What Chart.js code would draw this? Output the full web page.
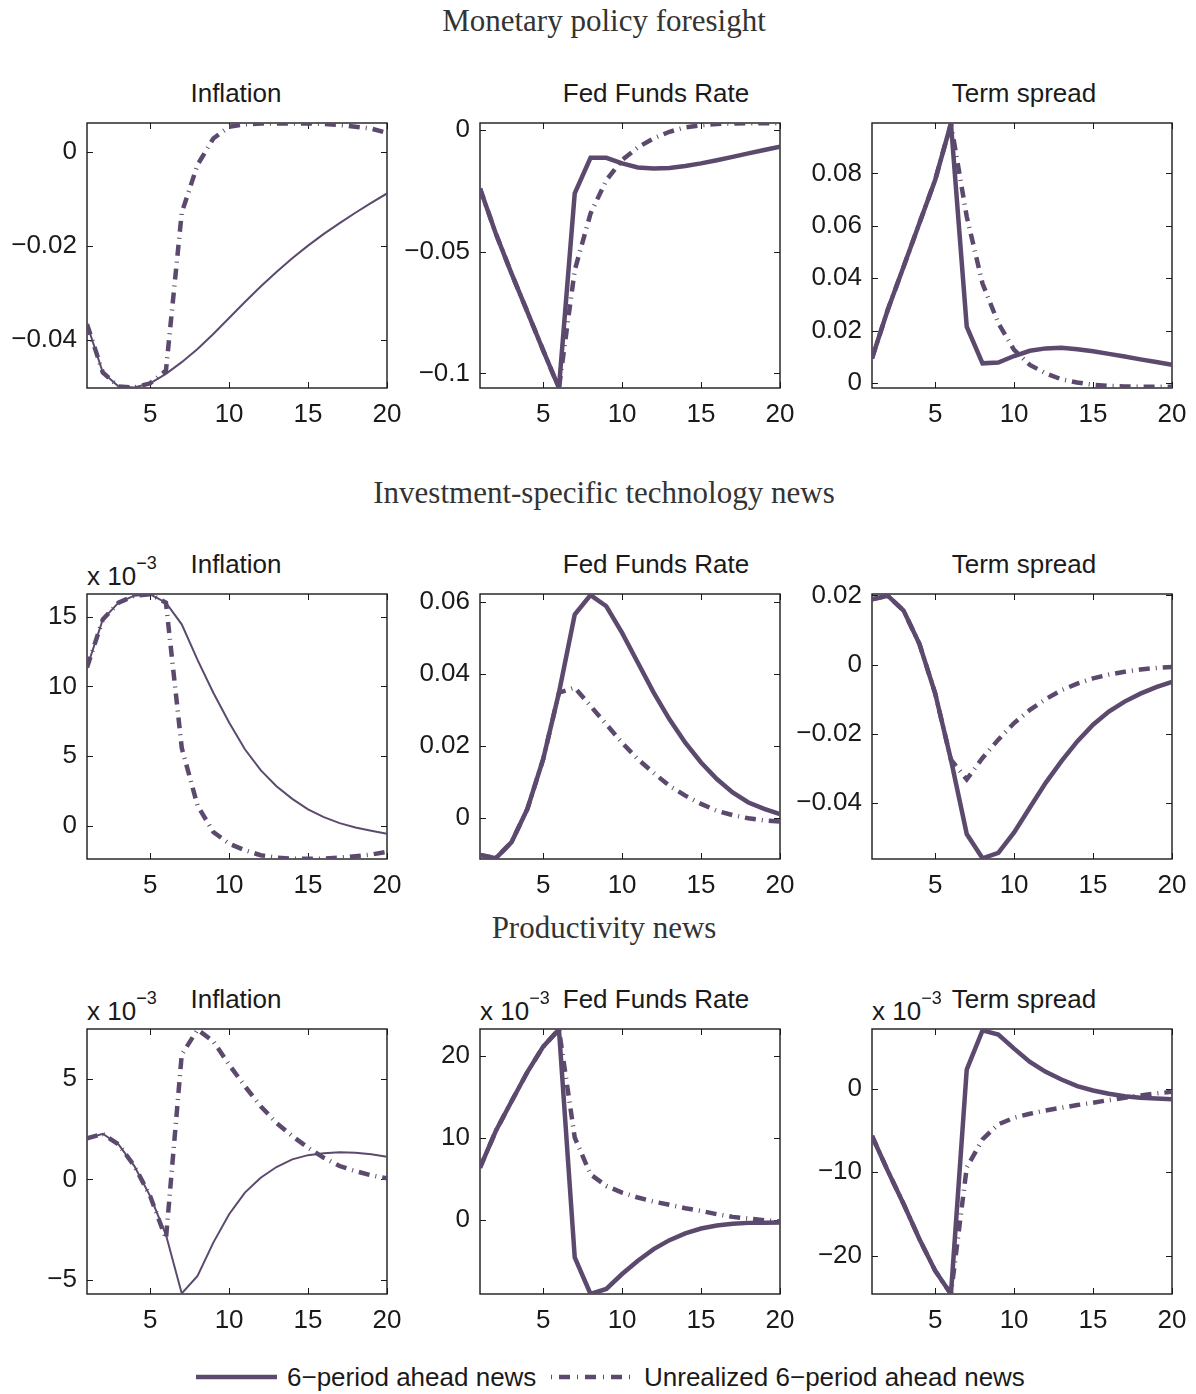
<!DOCTYPE html>
<html>
<head>
<meta charset="utf-8">
<title>News shocks impulse responses</title>
<script src="https://cdn.jsdelivr.net/npm/chart.js@4.4.0/dist/chart.umd.min.js"></script>
<style>
  html, body { margin: 0; padding: 0; background: #fff; overflow: hidden; }
  #figure {
    position: relative;
    width: 1196px;
    height: 1394px;
    font-family: "Liberation Sans", Arial, sans-serif;
    color: #1a1a1a;
  }
  .section-title {
    position: absolute;
    left: 0;
    width: 1208px;
    text-align: center;
    font-family: "Liberation Serif", "DejaVu Serif", serif;
    font-size: 31px;
    line-height: 34px;
    color: #333;
  }
  .panel-title {
    position: absolute;
    font-size: 26px;
    line-height: 30px;
    white-space: nowrap;
    transform: translateX(-50%);
  }
  .scale-note {
    position: absolute;
    font-size: 26px;
    line-height: 30px;
    white-space: nowrap;
  }
  .scale-note sup {
    font-size: 18px;
    position: relative;
    top: -6px;
  }
  .panel { position: absolute; }
  .legend-item { position: absolute; font-size: 26px; line-height: 30px; white-space: nowrap; }
</style>
</head>
<body>
<div id="figure"></div>
<script>
const periods = [1, 2, 3, 4, 5, 6, 7, 8, 9, 10, 11, 12, 13, 14, 15, 16, 17, 18, 19, 20];
const xTicks = [5, 10, 15, 20];

// Monetary policy foresight
const mpInflationNews = [-0.0367, -0.047, -0.05, -0.0502, -0.0493, -0.0473, -0.0448, -0.042, -0.0388, -0.0354, -0.032, -0.0287, -0.0256, -0.0227, -0.02, -0.0175, -0.0152, -0.013, -0.0109, -0.0089];
const mpInflationUnrealized = [-0.0367, -0.047, -0.05, -0.0502, -0.0493, -0.0466, -0.013, -0.0028, 0.0028, 0.0053, 0.0058, 0.006, 0.006, 0.006, 0.006, 0.0059, 0.0057, 0.0053, 0.0049, 0.004];
const mpInflationTicks = [-0.04, -0.02, 0];

const mpRateNews = [-0.024, -0.0425, -0.059, -0.0747, -0.0905, -0.106, -0.026, -0.0114, -0.0114, -0.0137, -0.0154, -0.0158, -0.0156, -0.0148, -0.0137, -0.0124, -0.011, -0.0096, -0.0082, -0.0068];
const mpRateUnrealized = [-0.024, -0.0425, -0.059, -0.0747, -0.0905, -0.106, -0.0576, -0.0343, -0.0206, -0.0123, -0.0071, -0.0034, -0.0007, 0.0011, 0.002, 0.0025, 0.0027, 0.0028, 0.0028, 0.0028];
const mpRateTicks = [-0.1, -0.05, 0];

const mpSpreadNews = [0.0095, 0.028, 0.0444, 0.061, 0.0775, 0.099, 0.0216, 0.0076, 0.0079, 0.0104, 0.0124, 0.0133, 0.0135, 0.013, 0.0122, 0.0112, 0.0102, 0.0091, 0.0081, 0.007];
const mpSpreadUnrealized = [0.0095, 0.028, 0.0444, 0.061, 0.0775, 0.099, 0.0635, 0.038, 0.0229, 0.0127, 0.007, 0.0038, 0.0015, 0.0003, -0.0006, -0.001, -0.0012, -0.0013, -0.0013, -0.0013];
const mpSpreadTicks = [0, 0.02, 0.04, 0.06, 0.08];

// Investment-specific technology news
const isInflationNews = [11.36, 14.8, 16.0, 16.5, 16.6, 16.0, 14.45, 11.9, 9.55, 7.41, 5.5, 4.0, 2.85, 1.95, 1.19, 0.64, 0.21, -0.1, -0.33, -0.55];
const isInflationUnrealized = [11.36, 14.8, 16.0, 16.5, 16.6, 16.0, 5.6, 1.47, -0.43, -1.26, -1.73, -2.09, -2.26, -2.33, -2.35, -2.33, -2.26, -2.16, -2.04, -1.85];
const isInflationTicks = [0, 5, 10, 15];

const isRateNews = [-0.0102, -0.0111, -0.0066, 0.0026, 0.0164, 0.0349, 0.0566, 0.062, 0.0589, 0.0515, 0.0432, 0.0349, 0.0275, 0.021, 0.0155, 0.0109, 0.0072, 0.0044, 0.0026, 0.0012];
const isRateUnrealized = [-0.0102, -0.0111, -0.0066, 0.0026, 0.0164, 0.0349, 0.0363, 0.0312, 0.0261, 0.021, 0.0164, 0.0126, 0.009, 0.0063, 0.004, 0.0021, 0.0009, 0.0, -0.0006, -0.0009];
const isRateTicks = [0, 0.02, 0.04, 0.06];

const isSpreadNews = [0.0189, 0.0199, 0.0156, 0.006, -0.0083, -0.0275, -0.049, -0.056, -0.0544, -0.0485, -0.0413, -0.0342, -0.0279, -0.0222, -0.0174, -0.0136, -0.0107, -0.0084, -0.0065, -0.005];
const isSpreadUnrealized = [0.0189, 0.0199, 0.0156, 0.006, -0.0083, -0.0275, -0.0332, -0.027, -0.0217, -0.0169, -0.0131, -0.01, -0.0074, -0.0055, -0.004, -0.0029, -0.0021, -0.0014, -0.001, -0.0007];
const isSpreadTicks = [-0.04, -0.02, 0, 0.02];

// Productivity news
const pnInflationNews = [2.03, 2.26, 1.73, 0.66, -0.83, -2.75, -5.66, -4.79, -3.14, -1.73, -0.66, 0.08, 0.61, 0.99, 1.2, 1.3, 1.34, 1.32, 1.24, 1.12];
const pnInflationUnrealized = [2.03, 2.26, 1.73, 0.66, -0.83, -2.95, 6.19, 7.43, 6.85, 5.69, 4.62, 3.63, 2.8, 2.15, 1.57, 1.07, 0.66, 0.41, 0.2, 0.05];
const pnInflationTicks = [-5, 0, 5];

const pnRateNews = [6.33, 10.8, 14.44, 18.0, 21.1, 23.2, -4.62, -9.09, -8.48, -6.65, -5.03, -3.61, -2.52, -1.7, -1.1, -0.73, -0.53, -0.41, -0.38, -0.36];
const pnRateUnrealized = [6.33, 10.8, 14.44, 18.0, 21.1, 23.2, 10.0, 5.5, 4.1, 3.29, 2.68, 2.19, 1.79, 1.38, 1.05, 0.65, 0.32, 0.12, -0.08, -0.24];
const pnRateTicks = [0, 10, 20];

const pnSpreadNews = [-5.66, -9.84, -13.8, -18.0, -21.8, -24.6, 2.31, 7.0, 6.5, 4.82, 3.23, 2.03, 1.12, 0.32, -0.2, -0.6, -0.88, -1.08, -1.16, -1.24];
const pnSpreadUnrealized = [-5.66, -9.84, -13.8, -18.0, -21.8, -24.6, -9.44, -6.06, -4.26, -3.47, -2.99, -2.59, -2.27, -1.95, -1.67, -1.35, -1.08, -0.8, -0.56, -0.36];
const pnSpreadTicks = [-20, -10, 0];

const sectionTitles = ["Monetary policy foresight", "Investment-specific technology news", "Productivity news"];
const variableTitles = ["Inflation", "Fed Funds Rate", "Term spread"];
const legendLabels = ["6\u2212period ahead news", "Unrealized 6\u2212period ahead news"];

const panels = [
  { row: 0, col: 0, news: mpInflationNews, unrealized: mpInflationUnrealized, ticks: mpInflationTicks, min: -0.0503, max: 0.0061, thin: true },
  { row: 0, col: 1, news: mpRateNews, unrealized: mpRateUnrealized, ticks: mpRateTicks, min: -0.106, max: 0.0029 },
  { row: 0, col: 2, news: mpSpreadNews, unrealized: mpSpreadUnrealized, ticks: mpSpreadTicks, min: -0.0018, max: 0.0992 },
  { row: 1, col: 0, news: isInflationNews, unrealized: isInflationUnrealized, ticks: isInflationTicks, min: -2.36, max: 16.62, thin: true, note: true },
  { row: 1, col: 1, news: isRateNews, unrealized: isRateUnrealized, ticks: isRateTicks, min: -0.0113, max: 0.0623 },
  { row: 1, col: 2, news: isSpreadNews, unrealized: isSpreadUnrealized, ticks: isSpreadTicks, min: -0.0562, max: 0.0204 },
  { row: 2, col: 0, news: pnInflationNews, unrealized: pnInflationUnrealized, ticks: pnInflationTicks, min: -5.69, max: 7.46, thin: true, note: true },
  { row: 2, col: 1, news: pnRateNews, unrealized: pnRateUnrealized, ticks: pnRateTicks, min: -9.09, max: 23.25, note: true },
  { row: 2, col: 2, news: pnSpreadNews, unrealized: pnSpreadUnrealized, ticks: pnSpreadTicks, min: -24.6, max: 7.17, note: true },
];

// layout of the grid
const plotLefts = [87, 480, 872];
const plotTops = [123, 594, 1029];
const titleCenters = [236, 656, 1024];
const sectionCenters = [21, 493, 928];
const PLOT_W = 300;
const PLOT_H = 265;
const AXIS_W = 87;
const AXIS_H = 45;
const PAD_TOP = 30;
const PAD_RIGHT = 35;

const lineColor = "#5c4a6e";
const inkColor = "#1a1a1a";
const dashDot = [11, 6, 1, 6];
const tickFont = { family: "'Liberation Sans', Arial, sans-serif", size: 26 };

const figure = document.getElementById("figure");

function formatTick(value) {
  if (Math.abs(value) < 1e-12) return "0";
  return String(Number(value.toPrecision(6))).replace("-", "\u2212");
}

// box around the plot area with small inward ticks on all four sides
const frameTicks = {
  id: "frameTicks",
  beforeDatasetsDraw(chart) {
    const { ctx, chartArea: area, scales } = chart;
    const len = 6;
    ctx.save();
    ctx.strokeStyle = inkColor;
    ctx.lineWidth = 1.4;
    ctx.strokeRect(area.left, area.top, area.right - area.left, area.bottom - area.top);
    ctx.lineWidth = 1;
    ctx.beginPath();
    scales.x.ticks.forEach((tick) => {
      const px = Math.round(scales.x.getPixelForValue(tick.value)) + 0.5;
      ctx.moveTo(px, area.bottom);
      ctx.lineTo(px, area.bottom - len);
      ctx.moveTo(px, area.top);
      ctx.lineTo(px, area.top + len);
    });
    scales.y.ticks.forEach((tick) => {
      const py = Math.round(scales.y.getPixelForValue(tick.value)) + 0.5;
      ctx.moveTo(area.left, py);
      ctx.lineTo(area.left + len, py);
      ctx.moveTo(area.right, py);
      ctx.lineTo(area.right - len, py);
    });
    ctx.stroke();
    ctx.restore();
  },
};

function toPoints(values) {
  return periods.map((p, i) => ({ x: p, y: values[i] }));
}

function addText(className, text, left, top) {
  const el = document.createElement("div");
  el.className = className;
  el.textContent = text;
  el.style.left = `${left}px`;
  el.style.top = `${top}px`;
  figure.appendChild(el);
  return el;
}

function renderPanel(panel) {
  const left = plotLefts[panel.col];
  const top = plotTops[panel.row];

  addText("panel-title", variableTitles[panel.col], titleCenters[panel.col], top - 45);

  if (panel.note) {
    const note = addText("scale-note", "x 10", left, top - 40);
    const sup = document.createElement("sup");
    sup.textContent = "\u22123";
    note.appendChild(sup);
  }

  const box = document.createElement("div");
  box.className = "panel";
  box.style.left = `${left - AXIS_W}px`;
  box.style.top = `${top - PAD_TOP}px`;
  const canvas = document.createElement("canvas");
  canvas.width = AXIS_W + PLOT_W + PAD_RIGHT;
  canvas.height = PAD_TOP + PLOT_H + AXIS_H;
  box.appendChild(canvas);
  figure.appendChild(box);

  new Chart(canvas, {
    type: "line",
    data: {
      datasets: [
        {
          label: legendLabels[1],
          data: toPoints(panel.unrealized),
          borderColor: lineColor,
          borderWidth: 4.5,
          borderDash: dashDot,
          borderCapStyle: "butt",
          pointRadius: 0,
          tension: 0,
        },
        {
          label: legendLabels[0],
          data: toPoints(panel.news),
          borderColor: lineColor,
          borderWidth: panel.thin ? 2 : 4.5,
          pointRadius: 0,
          tension: 0,
        },
      ],
    },
    options: {
      responsive: false,
      animation: false,
      devicePixelRatio: 1,
      events: [],
      layout: { padding: { top: PAD_TOP, right: PAD_RIGHT, left: 0, bottom: 0 } },
      plugins: {
        legend: { display: false },
        tooltip: { enabled: false },
      },
      scales: {
        x: {
          type: "linear",
          min: 1,
          max: 20,
          grid: { display: false },
          border: { display: false },
          ticks: { color: inkColor, font: tickFont, padding: 3, maxRotation: 0, callback: formatTick },
          afterBuildTicks: (scale) => {
            scale.ticks = xTicks.map((v) => ({ value: v }));
          },
          afterFit: (scale) => {
            scale.height = AXIS_H;
          },
        },
        y: {
          type: "linear",
          min: panel.min,
          max: panel.max,
          grid: { display: false },
          border: { display: false },
          ticks: { color: inkColor, font: tickFont, padding: 2, callback: formatTick },
          afterBuildTicks: (scale) => {
            scale.ticks = panel.ticks.map((v) => ({ value: v }));
          },
          afterFit: (scale) => {
            scale.width = AXIS_W;
          },
        },
      },
    },
    plugins: [frameTicks],
  });
}

function renderLegend() {
  const y = 1377;
  const solid = `<svg width="81" height="10"><line x1="0" y1="5" x2="81" y2="5" stroke="${lineColor}" stroke-width="4.5"/></svg>`;
  const dashed = `<svg width="82" height="10"><line x1="0" y1="5" x2="82" y2="5" stroke="${lineColor}" stroke-width="4.5" stroke-dasharray="1 7 11 7"/></svg>`;
  const items = [
    [solid, 196, y - 5],
    [legendLabels[0], 287, y - 15],
    [dashed, 551, y - 5],
    [legendLabels[1], 644, y - 15],
  ];
  items.forEach(([content, left, top]) => {
    const el = document.createElement("div");
    el.className = "legend-item";
    el.style.left = `${left}px`;
    el.style.top = `${top}px`;
    if (content.startsWith("<svg")) {
      el.style.lineHeight = "0";
      el.innerHTML = content;
    } else {
      el.textContent = content;
    }
    figure.appendChild(el);
  });
}

sectionTitles.forEach((title, i) => addText("section-title", title, 0, sectionCenters[i] - 17));
panels.forEach(renderPanel);
renderLegend();
</script>
</body>
</html>
